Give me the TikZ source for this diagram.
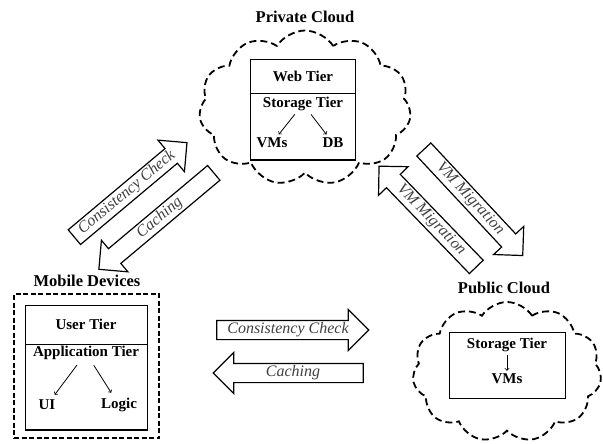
\documentclass[tikz,border=0pt]{standalone}
\usepackage{fontspec}
\setmainfont{Liberation Serif}
\usetikzlibrary{positioning,arrows,shapes.symbols,shapes.arrows,shapes.multipart}

\begin{document}
\begin{tikzpicture}
  [x=1pt,y=-1pt,
   cloudy/.style={cloud, cloud puffs=11, cloud puff arc=115, draw,
     line width=1.8pt, dash pattern=on 7pt off 4pt},
   tier/.style={rectangle split, rectangle split parts=2, draw,
     line width=1.2pt, inner sep=0pt, text width=#1, align=center},
   lbl/.style={font=\fontsize{15}{17}\selectfont\bfseries, inner sep=1pt},
   title/.style={font=\fontsize{16.5}{19}\selectfont\bfseries},
   fat/.style={single arrow, draw, line width=1.2pt, single arrow head extend=11pt,
     single arrow tip angle=90, inner xsep=2pt, inner ysep=1.5pt,
     text height=11pt, text depth=4pt, font=\fontsize{16}{18}\selectfont\itshape,
     text=black!75}]

\useasboundingbox (0,0) rectangle (603,444);

% private cloud
\node [title] (ptitle) at (305,17) {Private Cloud};
\node [cloudy, minimum width=212pt, minimum height=155pt] (pcloud) at (305,108) {};
\node [tier=105pt, anchor=north west] (pbox) at (250,59) {
\nodepart{one} \rule{0pt}{33pt}
\nodepart{two} \rule{0pt}{65pt}
};
\node [lbl] (pweb) at (303,76) {Web Tier};
\node [lbl] (pstor) at (303,104) {Storage Tier};
\node [lbl] (pvms) at (272,143) {VMs};
\node [lbl] (pdb) at (333,143) {DB};
\draw [->, line width=0.8pt, shorten <=3pt, shorten >=3pt] (pstor) -- (pvms);
\draw [->, line width=0.8pt, shorten <=3pt, shorten >=3pt] (pstor) -- (pdb);

% mobile devices
\node [title] (mtitle) at (87,281) {Mobile Devices};
\node [draw, line width=2.2pt, dash pattern=on 5pt off 2.5pt, minimum width=145pt,
  minimum height=144pt, anchor=north west] (mframe) at (13,293) {};
\node [tier=122pt, anchor=north west] (mbox) at (25,305) {
\nodepart{one} \rule{0pt}{38pt}
\nodepart{two} \rule{0pt}{84pt}
};
\node [lbl] (muser) at (86,324) {User Tier};
\node [lbl] (mapp) at (86,353) {Application Tier};
\node [lbl] (mui) at (47,405) {UI};
\node [lbl] (mlogic) at (119,405) {Logic};
\draw [->, line width=0.8pt, shorten <=5pt, shorten >=5pt] (mapp) -- (mui);
\draw [->, line width=0.8pt, shorten <=5pt, shorten >=5pt] (mapp) -- (mlogic);

% public cloud
\node [title] (utitle) at (504,288) {Public Cloud};
\node [cloudy, minimum width=189pt, minimum height=140pt] (ucloud) at (507,372) {};
\node [draw, line width=1.2pt, minimum width=116pt, minimum height=66pt,
  anchor=north west] (ubox) at (449,332) {};
\node [lbl] (ustor) at (507,345) {Storage Tier};
\node [lbl] (uvms) at (507,379) {VMs};
\draw [->, line width=0.8pt, shorten <=2pt, shorten >=2pt] (ustor) -- (uvms);

% fat arrows
\node [fat, minimum height=147pt, rotate=40] (dcons) at (127,193) {Consistency Check};
\node [fat, minimum height=150pt, rotate=40, shape border rotate=180] (dcach) at (160,218) {Caching};
\node [fat, minimum height=145pt, rotate=-47] (vmdown) at (470,199) {VM Migration};
\node [fat, minimum height=140pt, rotate=-46, shape border rotate=180] (vmup) at (431,220) {VM Migration};
\node [fat, minimum height=152pt] (hcons) at (288,330) {Consistency Check};
\node [fat, minimum height=150pt, shape border rotate=180] (hcach) at (293,373) {Caching};
\end{tikzpicture}
\end{document}
